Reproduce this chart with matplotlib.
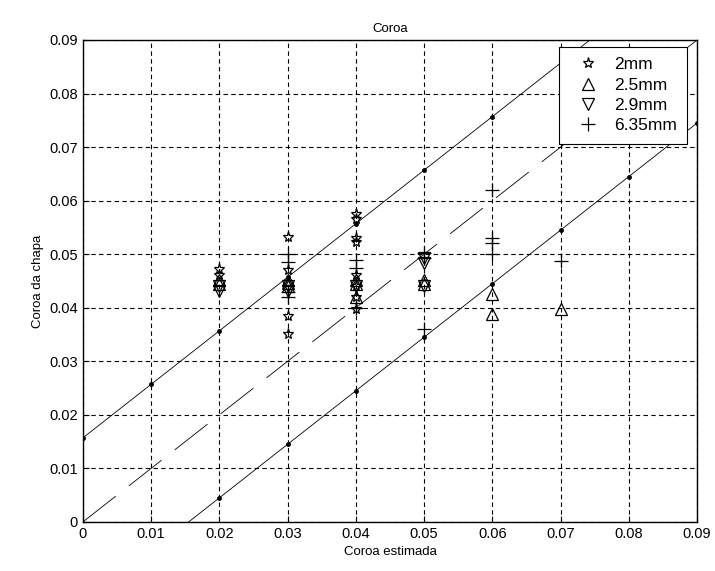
import numpy as np
import matplotlib
matplotlib.use('Agg')
import matplotlib.pyplot as plt

plt.rcParams['font.family'] = ['Liberation Sans', 'DejaVu Sans']
plt.rcParams['font.size'] = 8.5

# reference lines (estimated vs measured crown)
line_x = [0.0, 0.01, 0.02, 0.03, 0.04, 0.05, 0.06, 0.07, 0.08, 0.09]
upper_y = [0.0157, 0.0257, 0.0357, 0.0457, 0.0557, 0.0657, 0.0757, 0.0857, 0.0957, 0.1057]
lower_y = [-0.0155, -0.0055, 0.0045, 0.0145, 0.0245, 0.0345, 0.0445, 0.0545, 0.0645, 0.0745]

# measured points per sheet thickness
x_2mm = [0.02, 0.02, 0.03, 0.03, 0.03, 0.03, 0.04, 0.04, 0.04, 0.04, 0.04, 0.04, 0.04, 0.04]
y_2mm = [0.0472, 0.0462, 0.0532, 0.0470, 0.0385, 0.0350, 0.0575, 0.0565, 0.0530, 0.0522,
         0.0462, 0.0440, 0.0420, 0.0398]

x_25mm = [0.02, 0.02, 0.03, 0.03, 0.03, 0.04, 0.04, 0.04, 0.05, 0.05, 0.06, 0.06, 0.07]
y_25mm = [0.0452, 0.0444, 0.0452, 0.0446, 0.0440, 0.0452, 0.0444, 0.0420, 0.0452, 0.0444,
          0.0425, 0.0388, 0.0398]

x_29mm = [0.02, 0.02, 0.03, 0.03, 0.04, 0.05, 0.05, 0.05]
y_29mm = [0.0440, 0.0432, 0.0440, 0.0432, 0.0440, 0.0492, 0.0484, 0.0440]

x_635mm = [0.03, 0.03, 0.03, 0.03, 0.04, 0.04, 0.04, 0.05, 0.05, 0.05,
           0.06, 0.06, 0.06, 0.06, 0.07]
y_635mm = [0.0500, 0.0485, 0.0430, 0.0420, 0.0490, 0.0475, 0.0400, 0.0502, 0.0492, 0.0360,
           0.0620, 0.0530, 0.0520, 0.0500, 0.0487]

fig = plt.figure(figsize=(7.15, 5.71), dpi=100)
ax = fig.add_axes([0.116, 0.086, 0.859, 0.844])

ax.plot(line_x, upper_y, 'k-', lw=0.6)
ax.plot(line_x, upper_y, 'k.', ms=5)
ax.plot(line_x, lower_y, 'k-', lw=0.6)
ax.plot(line_x, lower_y, 'k.', ms=5)
ax.plot([0, 0.09], [0, 0.09], 'k-', lw=0.6, dashes=(50, 20))

mk = dict(ls='none', mfc='none', mec='k', mew=0.9)
ax.plot(x_2mm, y_2mm, marker='*', ms=8, label='2mm', **mk)
ax.plot(x_25mm, y_25mm, marker='^', ms=8, label='2.5mm', **mk)
ax.plot(x_29mm, y_29mm, marker='v', ms=8, label='2.9mm', **mk)
ax.plot(x_635mm, y_635mm, marker='+', ms=10, label='6.35mm', **mk)

ax.set_xlim(0, 0.09)
ax.set_ylim(0, 0.09)
ticks = [0, 0.01, 0.02, 0.03, 0.04, 0.05, 0.06, 0.07, 0.08, 0.09]
labels = ['0', '0.01', '0.02', '0.03', '0.04', '0.05', '0.06', '0.07', '0.08', '0.09']
ax.set_xticks(ticks)
ax.set_xticklabels(labels, fontsize=10.5)
ax.set_yticks(ticks)
ax.set_yticklabels(labels, fontsize=10.5)
ax.tick_params(direction='in', length=4, width=0.8, colors='k')
ax.grid(True, color='k', ls=(0, (4, 3)), lw=0.8)
for s in ax.spines.values():
    s.set_linewidth(1.0)

ax.set_title('Coroa', fontsize=9.5)
ax.set_xlabel('Coroa estimada', fontsize=9.5)
ax.set_ylabel('Coroa da chapa', fontsize=9.5)

leg = ax.legend(loc='upper right', bbox_to_anchor=(0.984, 0.986), fontsize=12.5,
                fancybox=False, framealpha=1, edgecolor='k', borderpad=0.6,
                handlelength=2.1, labelspacing=0.3, handletextpad=0.45,
                borderaxespad=0)
leg.get_frame().set_linewidth(0.8)

fig.savefig('out.png', dpi=100)
